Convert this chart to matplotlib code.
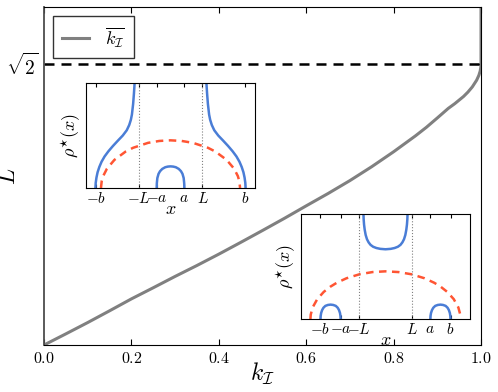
import matplotlib
matplotlib.use("Agg")
import matplotlib.pyplot as plt

plt.rcParams['mathtext.fontset'] = 'cm'
plt.rcParams['font.family'] = 'serif'
plt.rcParams['font.serif'] = ['DejaVu Serif']

# main curve k_I(L)
k_vals = [0.0, 0.05, 0.1, 0.15, 0.2, 0.25, 0.3, 0.35, 0.4, 0.45, 0.5, 0.55,
          0.6, 0.65, 0.7, 0.75, 0.8, 0.85, 0.875, 0.9, 0.925, 0.94, 0.95,
          0.96, 0.97, 0.98, 0.99, 0.995, 0.998, 0.9995, 1.0, 1.0]
L_vals = [0.0, 0.056, 0.113, 0.172, 0.232, 0.288, 0.345, 0.400, 0.457, 0.516,
          0.576, 0.637, 0.700, 0.762, 0.827, 0.897, 0.972, 1.052, 1.095, 1.142,
          1.19, 1.214, 1.232, 1.25, 1.272, 1.298, 1.332, 1.356, 1.377, 1.396,
          1.414, 1.7]
x_ticks = [0.0, 0.2, 0.4, 0.6, 0.8, 1.0]
x_ticklabels = ['$0.0$', '$0.2$', '$0.4$', '$0.6$', '$0.8$', '$1.0$']

# inset 1 (a < L < b), b = 1
in1_a, in1_L, in1_b = 0.185, 0.427, 1.0
in1_left_x = [-1.004, -1.0, -0.99, -0.975, -0.952, -0.922, -0.882, -0.83,
              -0.77, -0.705, -0.638, -0.585, -0.552, -0.53, -0.516, -0.5,
              -0.489, -0.48, -0.476]
in1_left_y = [0.0, 0.05, 0.1, 0.15, 0.2, 0.25, 0.3, 0.35, 0.4, 0.45, 0.5,
              0.55, 0.6, 0.65, 0.7, 0.8, 0.9, 1.0, 1.06]
in1_right_x = [0.476, 0.48, 0.489, 0.5, 0.516, 0.53, 0.552, 0.585, 0.638,
               0.705, 0.77, 0.83, 0.882, 0.922, 0.952, 0.975, 0.99, 1.0, 1.004]
in1_right_y = [1.06, 1.0, 0.9, 0.8, 0.7, 0.65, 0.6, 0.55, 0.5, 0.45, 0.4,
               0.35, 0.3, 0.25, 0.2, 0.15, 0.1, 0.05, 0.0]
in1_mid_x = [-0.185, -0.183, -0.176, -0.16, -0.14, -0.11, -0.07, -0.035, 0.0,
             0.035, 0.07, 0.11, 0.14, 0.16, 0.176, 0.183, 0.185]
in1_mid_y = [0.0, 0.045, 0.095, 0.135, 0.16, 0.182, 0.198, 0.204, 0.206,
             0.204, 0.198, 0.182, 0.16, 0.135, 0.095, 0.045, 0.0]
in1_red_x = [-0.93, -0.92, -0.9, -0.85, -0.75, -0.6, -0.5, -0.3, -0.15, 0.0,
             0.15, 0.3, 0.5, 0.6, 0.75, 0.85, 0.9, 0.92, 0.93]
in1_red_y = [0.0, 0.066, 0.114, 0.184, 0.268, 0.347, 0.383, 0.430, 0.448,
             0.454, 0.448, 0.430, 0.383, 0.347, 0.268, 0.184, 0.114, 0.066, 0.0]

# inset 2 (L < a < b), b = 1
in2_a, in2_L, in2_b = 0.69, 0.41, 1.0
in2_mid_x = [-0.342, -0.339, -0.336, -0.330, -0.320, -0.305, -0.285, -0.26,
             -0.23, -0.19, -0.14, -0.08, 0.0, 0.08, 0.14, 0.19, 0.23, 0.26,
             0.285, 0.305, 0.320, 0.330, 0.336, 0.339, 0.342]
in2_mid_y = [1.06, 1.0, 0.95, 0.90, 0.85, 0.80, 0.76, 0.73, 0.706, 0.688,
             0.676, 0.668, 0.664, 0.668, 0.676, 0.688, 0.706, 0.73, 0.76, 0.80,
             0.85, 0.90, 0.95, 1.0, 1.06]
in2_lft_x = [-1.0, -0.997, -0.99, -0.975, -0.955, -0.925, -0.885, -0.845,
             -0.805, -0.765, -0.735, -0.715, -0.70, -0.693, -0.69]
in2_rgt_x = [0.69, 0.693, 0.70, 0.715, 0.735, 0.765, 0.805, 0.845, 0.885,
             0.925, 0.955, 0.975, 0.99, 0.997, 1.0]
in2_arch_y = [0.0, 0.03, 0.057, 0.085, 0.107, 0.125, 0.134, 0.137, 0.134,
              0.125, 0.107, 0.085, 0.057, 0.03, 0.0]
in2_red_x = [-1.155, -1.15, -1.12, -1.05, -0.95, -0.85, -0.75, -0.6, -0.4,
             -0.2, 0.0, 0.2, 0.4, 0.6, 0.75, 0.85, 0.95, 1.05, 1.12, 1.15, 1.155]
in2_red_y = [0.0, 0.042, 0.111, 0.189, 0.258, 0.307, 0.345, 0.388, 0.426,
             0.447, 0.454, 0.447, 0.426, 0.388, 0.345, 0.307, 0.258, 0.189,
             0.111, 0.042, 0.0]

blue = '#4a7dd6'
red = '#ff5533'

fig = plt.figure(figsize=(4.98, 3.92), dpi=100)
ax = fig.add_axes([0.0884, 0.1199, 0.8775, 0.8622])

ax.plot(k_vals, L_vals, color='gray', lw=2.2, label=r'$\overline{k_\mathcal{I}}$')
ax.axhline(2 ** 0.5, color='k', lw=1.8, ls=(0, (4, 2.8)))
ax.set_xlim(0, 1)
ax.set_ylim(0, 1.7)
ax.set_xticks(x_ticks)
ax.set_xticklabels(x_ticklabels, fontsize=11.5)
ax.set_yticks([2 ** 0.5])
ax.set_yticklabels([r'$\sqrt{2}$'], fontsize=14)
ax.tick_params(direction='in', top=True, right=True, length=4)
ax.spines['left'].set_color('0.3')
ax.spines['left'].set_linewidth(1.3)
ax.set_xlabel(r'$k_\mathcal{I}$', fontsize=17)
ax.xaxis.set_label_coords(0.5, -0.045)
ax.set_ylabel(r'$L$', fontsize=17)
ax.yaxis.set_label_coords(-0.055, 0.5)
leg = ax.legend(loc='upper left', fontsize=13, fancybox=False, handlelength=1.5,
                handletextpad=0.9, borderpad=0.5)
leg.get_frame().set_edgecolor('k')
leg.get_frame().set_linewidth(1.0)


def setup_inset(axi, a, L, b, lim, labels):
    axi.set_xlim(-lim, lim)
    axi.set_ylim(0, 1)
    ticks = sorted([-b, -a, -L, L, a, b])
    axi.set_xticks(ticks)
    axi.set_xticklabels(labels, fontsize=11)
    axi.set_yticks([])
    axi.tick_params(direction='in', top=True, length=3, pad=2)
    axi.axvline(-L, color='gray', lw=0.8, ls=':')
    axi.axvline(L, color='gray', lw=0.8, ls=':')
    axi.set_xlabel(r'$x$', fontsize=13, labelpad=-4)
    axi.set_ylabel(r'$\rho^{\star}(x)$', fontsize=13, labelpad=2)


ax1 = fig.add_axes([0.1727, 0.5204, 0.3394, 0.2679])
ax1.plot(in1_left_x, in1_left_y, color=blue, lw=1.8)
ax1.plot(in1_right_x, in1_right_y, color=blue, lw=1.8)
ax1.plot(in1_mid_x, in1_mid_y, color=blue, lw=1.8)
ax1.plot(in1_red_x, in1_red_y, color=red, lw=1.8, ls=(0, (3, 2.2)))
setup_inset(ax1, in1_a, in1_L, in1_b, 1.13,
            [r'$-b$', r'$-L$', r'$-a$', r'$a$', r'$L$', r'$b$'])

ax2 = fig.add_axes([0.6044, 0.1862, 0.3394, 0.2679])
ax2.plot(in2_mid_x, in2_mid_y, color=blue, lw=1.8)
ax2.plot(in2_lft_x, in2_arch_y, color=blue, lw=1.8)
ax2.plot(in2_rgt_x, in2_arch_y, color=blue, lw=1.8)
ax2.plot(in2_red_x, in2_red_y, color=red, lw=1.8, ls=(0, (3, 2.2)))
setup_inset(ax2, in2_a, in2_L, in2_b, 1.3,
            [r'$-b$', r'$-a$', r'$-L$', r'$L$', r'$a$', r'$b$'])

fig.savefig('out.png', dpi=100)
